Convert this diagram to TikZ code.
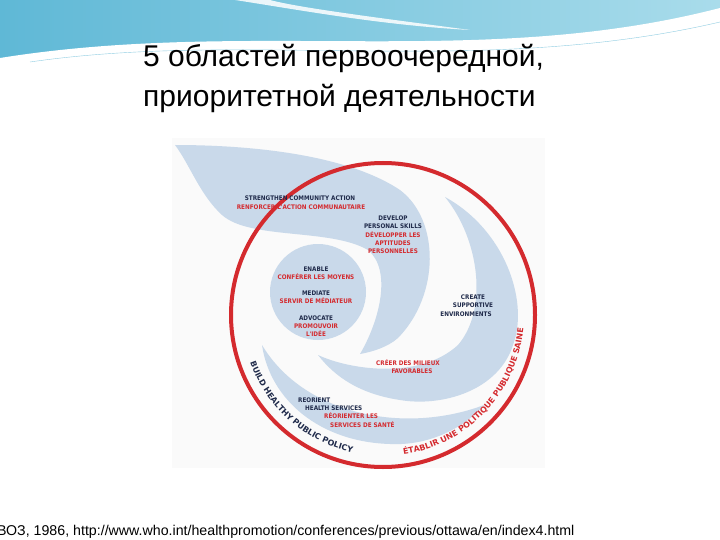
\documentclass[tikz,border=0pt]{standalone}
\usepackage{fontspec}
\setmainfont{Liberation Sans}
\newfontfamily\djfont{DejaVu Sans Condensed}
\newfontfamily\djwide{DejaVu Sans}
\usetikzlibrary{decorations.text}
\definecolor{swirl}{HTML}{C9D9EA}
\definecolor{wred}{HTML}{D42A2E}
\definecolor{navy}{HTML}{1F2A4A}
\definecolor{skyA}{HTML}{5FB8D6}
\definecolor{skyB}{HTML}{A9DCEB}
\tikzset{
 lbl/.style={font=\djfont\bfseries\fontsize{6.3}{7}\selectfont,text=navy,inner sep=0pt},
 rlbl/.style={lbl,text=wred},
 band/.style={fill=swirl,draw=none}
}
\begin{document}
\begin{tikzpicture}[x=1pt,y=-1pt]
\useasboundingbox (0,0) rectangle (720,540);
\fill[white] (0,0) rectangle (720,540);
% header
\shade[left color=skyA,right color=skyB] (0,0) rectangle (720,70);
\fill[white] (0,72) -- (0,58) .. controls (250,18) and (480,70) .. (720,8) -- (720,72) -- cycle;
\fill[white,opacity=0.85] (235,0) .. controls (300,10) and (380,25) .. (470,30) .. controls (380,18) and (300,8) .. (270,0) -- cycle;
\draw[white,line width=0.6pt] (40,58) .. controls (250,25) and (480,75) .. (720,18);
\draw[skyA!70,line width=0.4pt] (30,62) .. controls (250,30) and (480,78) .. (720,22);
% title
\node[anchor=west,font=\fontsize{30}{33}\selectfont,inner sep=0pt] (t1) at (143,58) {5 областей первоочередной,};
\node[anchor=west,font=\fontsize{30}{33}\selectfont,inner sep=0pt] (t2) at (143,98) {приоритетной деятельности};
% image background
\fill[gray!4] (172,138) rectangle (545,468);
% swirls
\path[band] (175,145) .. controls (230,145) and (340,150) .. (400,190)
 .. controls (440,220) and (440,295) .. (398,338)
 .. controls (388,347) and (372,352) .. (360,354)
 .. controls (380,320) and (392,270) .. (368,250)
 .. controls (330,228) and (250,240) .. (222,215)
 .. controls (200,195) and (190,165) .. (175,145) -- cycle;
\path[band] (445,197) .. controls (505,230) and (528,300) .. (514,342)
 .. controls (500,392) and (440,407) .. (400,400)
 .. controls (360,394) and (335,377) .. (318,355)
 .. controls (350,370) and (420,380) .. (458,345)
 .. controls (488,310) and (480,240) .. (445,197) -- cycle;
\path[band] (262,345) .. controls (270,400) and (320,442) .. (390,444)
 .. controls (430,446) and (465,427) .. (484,405)
 .. controls (450,418) and (400,425) .. (350,410)
 .. controls (310,398) and (280,375) .. (262,345) -- cycle;
\fill[swirl] (318,292) circle[radius=48];
% red ring
\node[draw=wred,line width=4pt,circle,minimum size=304pt,inner sep=0pt] (ring) at (383,315) {};
% ring texts
\path[decorate,decoration={text along path,text align=center,
 text={|\djwide\bfseries\fontsize{8}{9}\selectfont\color{navy}|BUILD HEALTHY PUBLIC POLICY}}]
 (ring.center) ++(170:141) arc[start angle=170,end angle=93,radius=141];
\path[decorate,decoration={text along path,text align=center,
 text={|\djwide\bfseries\fontsize{8}{9}\selectfont\color{wred}|ÉTABLIR UNE POLITIQUE PUBLIQUE SAINE}}]
 (ring.center) ++(87:141) arc[start angle=87,end angle=0,radius=141];
% labels
\node[lbl] (s1) at (300,198) {STRENGTHEN COMMUNITY ACTION};
\node[rlbl] (s2) at (301,207) {RENFORCER L'ACTION COMMUNAUTAIRE};
\node[lbl] (d1) at (393,218) {DEVELOP};
\node[lbl] (d2) at (393,226) {PERSONAL SKILLS};
\node[rlbl] (d3) at (393,235) {DÉVELOPPER LES};
\node[rlbl] (d4) at (393,243) {APTITUDES};
\node[rlbl] (d5) at (393,251) {PERSONNELLES};
\node[lbl] (e1) at (316,269) {ENABLE};
\node[rlbl] (e2) at (316,277) {CONFÉRER LES MOYENS};
\node[lbl] (m1) at (316,293) {MEDIATE};
\node[rlbl] (m2) at (316,301) {SERVIR DE MÉDIATEUR};
\node[lbl] (a1) at (316,318) {ADVOCATE};
\node[rlbl] (a2) at (316,326) {PROMOUVOIR};
\node[rlbl] (a3) at (316,334) {L'IDÉE};
\node[lbl] (c1) at (473,297) {CREATE};
\node[lbl] (c2) at (473,305) {SUPPORTIVE};
\node[lbl] (c3) at (466,314) {ENVIRONMENTS};
\node[rlbl] (c4) at (408,363) {CRÉER DES MILIEUX};
\node[rlbl] (c5) at (412,371) {FAVORABLES};
\node[lbl,anchor=west] (r1) at (298,400) {REORIENT};
\node[lbl,anchor=west] (r2) at (305,408) {HEALTH SERVICES};
\node[rlbl,anchor=west] (r3) at (324,416) {RÉORIENTER LES};
\node[rlbl,anchor=west] (r4) at (330,425) {SERVICES DE SANTÉ};
% footer
\node[anchor=west,font=\fontsize{14.2}{16}\selectfont,inner sep=0pt] (f) at (-3,532) {ВОЗ, 1986, http://www.who.int/healthpromotion/conferences/previous/ottawa/en/index4.html};
\end{tikzpicture}
\end{document}
